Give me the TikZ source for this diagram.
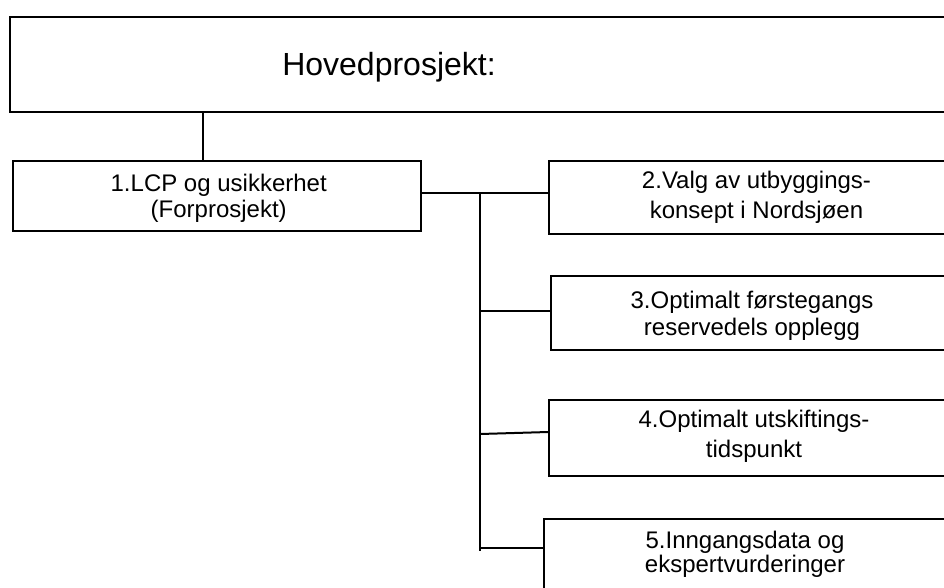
\documentclass[tikz,border=0pt]{standalone}
\usepackage{fontspec}
\setmainfont{Liberation Sans}
\begin{document}
\begin{tikzpicture}[x=1pt,y=-1pt,
  box/.style={draw, line width=2pt, rectangle, inner sep=0pt, anchor=north west},
  label text/.style={align=center, inner sep=0pt},
  link/.style={line width=2pt}]
\useasboundingbox (0,0) rectangle (944,587);
\clip (0,0) rectangle (944,587);
\fill[white] (0,0) rectangle (944,587);

% main project frame and its title
\node[box, minimum width=1000, minimum height=95] (main) at (9,16) {};
\node[font=\fontsize{32}{38}\selectfont, anchor=base] (title) at (389,75.7) {Hovedprosjekt:};

% sub-project frames
\node[box, minimum width=408, minimum height=70] (b1) at (12,160) {};
\node[box, minimum width=420, minimum height=73] (b2) at (548,160) {};
\node[box, minimum width=420, minimum height=74] (b3) at (550,275) {};
\node[box, minimum width=420, minimum height=76] (b4) at (548,399) {};
\node[box, minimum width=420, minimum height=100] (b5) at (543,518) {};

% sub-project titles
\node[label text, font=\fontsize{24}{26.7}\selectfont] (t1) at (218.7,198.2)
  {1.LCP og usikkerhet\\(Forprosjekt)};
\node[label text, font=\fontsize{24}{30}\selectfont] (t2) at (756.5,196.8)
  {2.Valg av utbyggings-\\konsept i Nordsjøen};
\node[label text, font=\fontsize{24}{27}\selectfont] (t3) at (752,316)
  {3.Optimalt førstegangs\\reservedels opplegg};
\node[label text, font=\fontsize{24}{30}\selectfont] (t4) at (754,435.8)
  {4.Optimalt utskiftings-\\tidspunkt};
\node[label text, font=\fontsize{24}{24}\selectfont] (t5) at (745,554.5)
  {5.Inngangsdata og\\ekspertvurderinger};

% junctions on the trunk line
\coordinate (j2) at (480,193);
\coordinate (j3) at (480,311);
\coordinate (j4) at (480,434);
\coordinate (j5) at (480,548);
\coordinate (jend) at (480,551);

% connectors
\draw[link] ([xshift=-14pt]b1.north) -- ([xshift=-14pt]b1.north |- main.south);
\draw[link] (b1.east |- j2) -- (j2 -| b2.west);
\draw[link] (j2) -- (jend);
\draw[link] (j3) -- (j3 -| b3.west);
\draw[link] (j4) -- ([yshift=2pt]j4 -| b4.west);
\draw[link] (j5) -- (j5 -| b5.west);
\end{tikzpicture}
\end{document}
